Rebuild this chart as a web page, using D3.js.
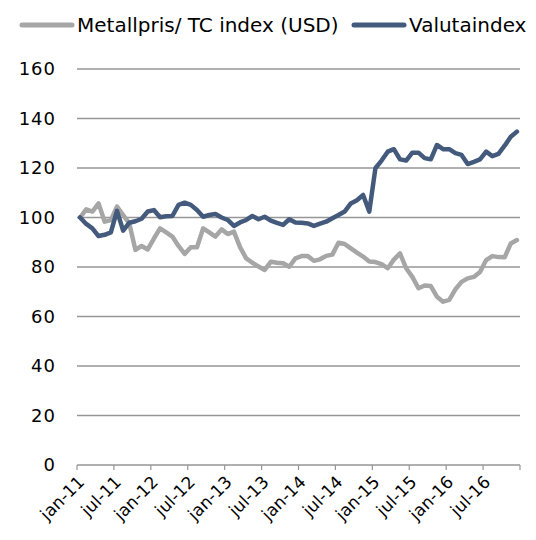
<!DOCTYPE html>
<html>
<head>
<meta charset="utf-8">
<script src="https://cdn.jsdelivr.net/npm/d3@7"></script>
<style>
  body { margin: 0; background: #fff; }
  svg text { font-family: "DejaVu Sans", sans-serif; fill: #000; }
</style>
</head>
<body>
<svg id="chart" width="536" height="540"></svg>
<script>
// Monthly index values, jan-11 .. dec-16 (jan-11 = 100)
var monthNames = ['jan','feb','mar','apr','mai','jun','jul','aug','sep','okt','nov','des'];
var years = [11, 12, 13, 14, 15, 16];
var months = [];
years.forEach(function (y) {
    monthNames.forEach(function (m) { months.push(m + '-' + y); });
});

var seriesNames = ['Metallpris/ TC index (USD)', 'Valutaindex'];

var metallpris = [
    100, 103.3, 102.4, 105.7, 98.3, 99, 104.4, 101, 97.6, 86.9, 88.5, 87.1,
    91.5, 95.6, 94, 92.3, 88.5, 85.3, 88, 88, 95.6, 94, 92.3, 95.2,
    93.3, 94.3, 88, 83.5, 81.7, 80.2, 78.8, 82.1, 81.7, 81.5, 80.1, 83.5,
    84.4, 84.4, 82.5, 83.1, 84.5, 85, 89.8, 89.3, 87.5, 85.8, 84.2, 82.2,
    82, 81.2, 79.5, 83, 85.5, 79.5, 76, 71.4, 72.5, 72.3, 68, 66,
    66.7, 71, 74, 75.4, 76, 78, 82.8, 84.4, 84, 83.9, 89.5, 90.9
];

var valutaindex = [
    100, 97.4, 95.6, 92.5, 93, 94, 102.7, 94.7, 97.9, 98.5, 99.5, 102.4,
    103, 100.1, 100.5, 100.6, 105.1, 106, 105.1, 103, 100.3, 101, 101.4, 100,
    99, 96.6, 98, 99, 100.6, 99.3, 100.3, 98.7, 97.8, 97, 99.3, 98,
    97.9, 97.6, 96.6, 97.5, 98.3, 99.7, 101, 102.4, 105.7, 107, 109.1, 102.4,
    119.9, 123, 126.6, 127.6, 123.5, 123, 126.2, 126.2, 124, 123.5, 129.3, 127.6,
    127.6, 126, 125.3, 121.6, 122.5, 123.5, 126.6, 124.8, 125.7, 129, 132.6, 134.7
];

var yTicks = [0, 20, 40, 60, 80, 100, 120, 140, 160];
var xLabels = ['jan-11','jul-11','jan-12','jul-12','jan-13','jul-13','jan-14','jul-14','jan-15','jul-15','jan-16','jul-16'];

var colors = ['#a6a6a6', '#445a7c'];

var svg = d3.select('#chart');

var x = d3.scaleBand().domain(months).range([77, 520]).padding(0);
var y = d3.scaleLinear().domain([0, 160]).range([465, 69]);

// gridlines
svg.append('g').selectAll('line')
    .data(yTicks.slice(1))
    .enter().append('line')
    .attr('x1', 77).attr('x2', 520)
    .attr('y1', function (d) { return y(d); })
    .attr('y2', function (d) { return y(d); })
    .attr('stroke', '#969696')
    .attr('stroke-width', 1.6);

// y labels
svg.append('g').selectAll('text')
    .data(yTicks)
    .enter().append('text')
    .attr('x', 56)
    .attr('y', function (d) { return y(d); })
    .attr('dy', '0.36em')
    .attr('text-anchor', 'end')
    .style('font-size', '18px')
    .style('letter-spacing', '1px')
    .text(function (d) { return d; });

// x axis line + ticks between categories every 6 months
var xAxis = svg.append('g');
xAxis.append('line')
    .attr('x1', 77).attr('x2', 520)
    .attr('y1', y(0)).attr('y2', y(0))
    .attr('stroke', '#969696').attr('stroke-width', 1.6);

var tickPos = months.filter(function (d, i) { return i % 6 === 0; })
    .map(function (d) { return x(d); });
tickPos.push(x.range()[1]);
xAxis.selectAll('line.tick')
    .data(tickPos)
    .enter().append('line')
    .attr('class', 'tick')
    .attr('x1', function (d) { return d; }).attr('x2', function (d) { return d; })
    .attr('y1', y(0)).attr('y2', y(0) + 5)
    .attr('stroke', '#969696').attr('stroke-width', 1.2);

xAxis.selectAll('text')
    .data(xLabels)
    .enter().append('text')
    .attr('transform', function (d) {
        var cx = x(d) + x.bandwidth() / 2;
        return 'translate(' + (cx + 1) + ',' + (y(0) + 14) + ') rotate(-45)';
    })
    .attr('text-anchor', 'end')
    .attr('dy', '0.35em')
    .style('font-size', '17px')
    .text(function (d) { return d; });

// lines
var line = d3.line()
    .x(function (d, i) { return x(months[i]) + x.bandwidth() / 2; })
    .y(function (d) { return y(d); });

[metallpris, valutaindex].forEach(function (vals, k) {
    svg.append('path')
        .datum(vals)
        .attr('d', line)
        .attr('fill', 'none')
        .attr('stroke', colors[k])
        .attr('stroke-width', 4.5)
        .attr('stroke-linejoin', 'round')
        .attr('stroke-linecap', 'round');
});

// legend
var legend = svg.append('g');
var legendX = [20, 352];
seriesNames.forEach(function (name, k) {
    var g = legend.append('g').attr('transform', 'translate(' + legendX[k] + ',25)');
    g.append('line')
        .attr('x1', 2).attr('x2', 52)
        .attr('stroke', colors[k]).attr('stroke-width', 5)
        .attr('stroke-linecap', 'round');
    g.append('text')
        .attr('x', 57)
        .attr('dy', '0.36em')
        .style('font-size', '20px')
        .text(name);
});
</script>
</body>
</html>
